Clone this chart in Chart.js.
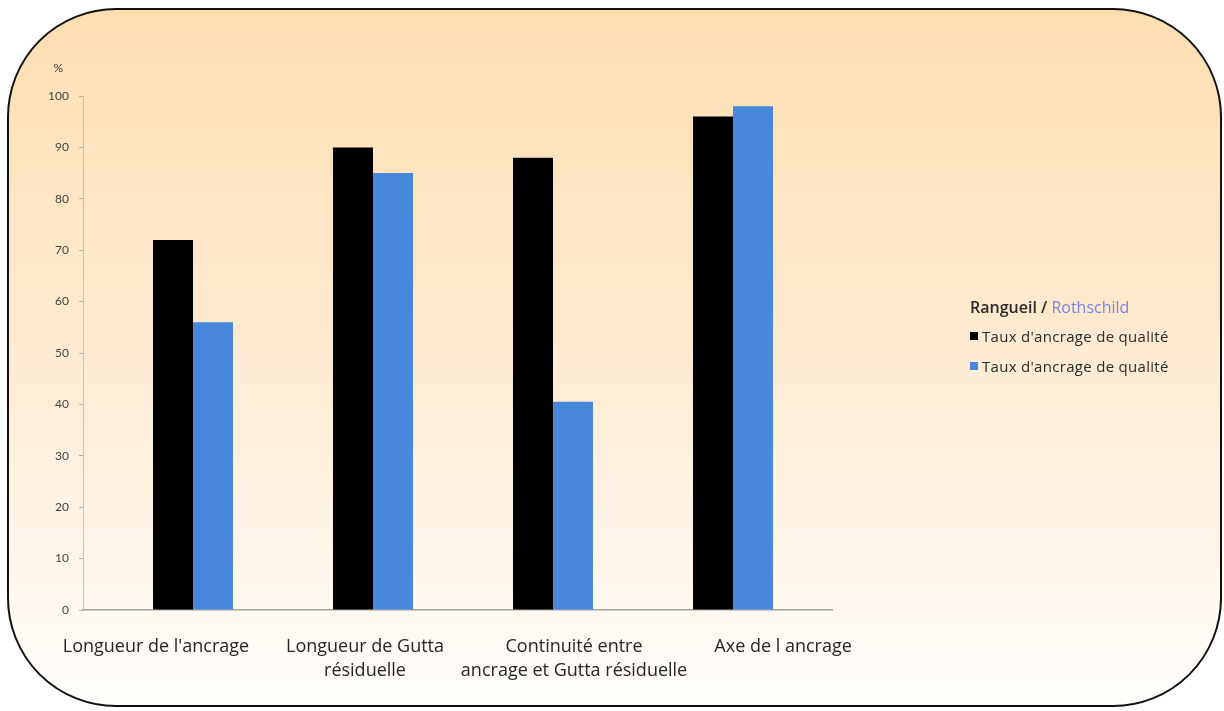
<!DOCTYPE html>
<html lang="fr">
<head>
<meta charset="UTF-8">
<title>Taux d'ancrage de qualité</title>
<script src="https://cdn.jsdelivr.net/npm/chart.js"></script>
<style>
    html, body { margin: 0; padding: 0; background: #fff; }
    #wrap { position: relative; width: 1224px; height: 711px; }
    #legend {
        position: absolute;
        left: 970px;
        top: 296px;
        font-family: 'Open Sans', sans-serif;
        color: #2b2b2b;
    }
    #legend .title { font-size: 16px; font-weight: 600; margin-bottom: 10px; }
    #legend .title span { color: #7d84e6; font-weight: 400; }
    #legend .item { font-size: 15px; letter-spacing: 0.3px; height: 30px; line-height: 16px; white-space: nowrap; }
    #legend .box { display: inline-block; width: 8px; height: 8px; margin-right: 4px; vertical-align: 2px; }
</style>
</head>
<body>
<div id="wrap">
    <canvas id="barChart" width="1224" height="711"></canvas>
    <div id="legend"></div>
</div>

<script>
// categories and series
var categories = [
    "Longueur de l'ancrage",
    ['Longueur de Gutta', 'résiduelle'],
    ['Continuité entre', 'ancrage et Gutta résiduelle'],
    'Axe de l ancrage'
];
var seriesNames = ["Taux d'ancrage de qualité", "Taux d'ancrage de qualité"];
var rangueil = [72, 90, 88, 96];
var rothschild = [56, 85, 40.5, 98];
var seriesColors = ['#000000', '#4787dc'];
var yTicks = [0, 10, 20, 30, 40, 50, 60, 70, 80, 90, 100];
var yUnit = '%';

// rounded panel with the peach gradient behind the chart
var panelBackground = {
    id: 'panelBackground',
    beforeDraw: function (chart) {
        var ctx = chart.ctx;
        ctx.save();
        ctx.fillStyle = '#ffffff';
        ctx.fillRect(0, 0, chart.width, chart.height);
        var grad = ctx.createLinearGradient(0, 9, 0, 706);
        grad.addColorStop(0, '#fcdfb0');
        grad.addColorStop(0.5, '#fdebd3');
        grad.addColorStop(1, '#fffefc');
        ctx.beginPath();
        ctx.roundRect(8, 9, 1213, 697, 108);
        ctx.fillStyle = grad;
        ctx.fill();
        ctx.lineWidth = 2;
        ctx.strokeStyle = '#111111';
        ctx.stroke();
        ctx.restore();
    }
};

// unit label sitting above the value axis
var unitLabel = {
    id: 'unitLabel',
    afterDraw: function (chart) {
        var y = chart.scales.y;
        var ctx = chart.ctx;
        ctx.save();
        ctx.font = '12px Lato';
        ctx.fillStyle = '#3c3c3c';
        ctx.textAlign = 'right';
        ctx.textBaseline = 'middle';
        ctx.fillText(yUnit, y.right - 20, y.top - 28);
        ctx.restore();
    }
};

function toPoints(values) {
    return values.map(function (v, i) { return { x: i, y: v }; });
}

var barData = {
    datasets: [{
        label: seriesNames[0],
        data: toPoints(rangueil),
        backgroundColor: seriesColors[0]
    }, {
        label: seriesNames[1],
        data: toPoints(rothschild),
        backgroundColor: seriesColors[1]
    }]
};

var barOptions = {
    responsive: false,
    animation: false,
    layout: { padding: { left: 40, top: 96, right: 392, bottom: 0 } },
    datasets: {
        bar: { categoryPercentage: 0.4444, barPercentage: 1 }
    },
    plugins: {
        legend: { display: false },
        tooltip: { enabled: false }
    },
    scales: {
        x: {
            type: 'linear',
            position: 'bottom',
            offset: false,
            min: -0.6111,
            max: 3.55,
            ticks: { display: false, stepSize: 1, includeBounds: false },
            grid: { display: false, drawTicks: false, offset: false },
            border: { display: true, color: '#a3a3a3', width: 1.5 },
            afterFit: function (s) { s.height = 0; }
        },
        xl: {
            type: 'linear',
            position: 'bottom',
            offset: false,
            min: -0.349,
            max: 3.234,
            ticks: {
                stepSize: 1,
                includeBounds: false,
                maxRotation: 0,
                autoSkip: false,
                padding: 25,
                color: '#262626',
                font: { family: 'Open Sans', size: 18, lineHeight: 1.33 },
                callback: function (value) { return categories[value]; }
            },
            grid: { display: false, drawTicks: false, offset: false },
            border: { display: false },
            afterFit: function (s) { s.height = 101; }
        },
        y: {
            min: 0,
            max: 100,
            afterBuildTicks: function (s) {
                s.ticks = yTicks.map(function (v) { return { value: v }; });
            },
            ticks: {
                padding: 10,
                color: '#444444',
                font: { family: 'Lato', size: 12 }
            },
            grid: { drawOnChartArea: false, drawTicks: true, tickLength: 4, color: '#b8b0a4' },
            border: { display: true, color: '#c9c1b4', width: 1 },
            afterFit: function (s) { s.width = 43; }
        }
    }
};

var ctxBar = document.getElementById('barChart').getContext('2d');
var myBarChart = new Chart(ctxBar, {
    type: 'bar',
    data: barData,
    options: barOptions,
    plugins: [panelBackground, unitLabel]
});

// legend built from the datasets, with the two site names as its heading
function buildLegend() {
    var html = '<div class="title">Rangueil / <span>Rothschild</span></div>';
    barData.datasets.forEach(function (ds) {
        html += '<div class="item"><span class="box" style="background:' + ds.backgroundColor + '"></span>' + ds.label + '</div>';
    });
    document.getElementById('legend').innerHTML = html;
}
buildLegend();
</script>
</body>
</html>
